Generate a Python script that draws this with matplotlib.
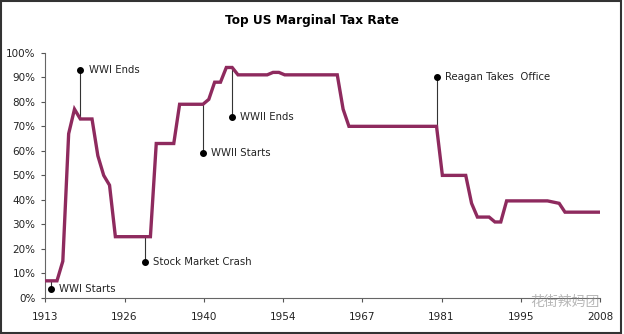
import matplotlib
matplotlib.use("Agg")
import matplotlib.pyplot as plt
import numpy as np

# ------------------------------------------------------------
# Data
# ------------------------------------------------------------
years = list(range(1913, 2009))
top_rate = [
    7, 7, 7, 15, 67, 77, 73, 73, 73, 58,          # 1913-1922
    50, 46, 25, 25, 25, 25, 25, 25, 25, 63,       # 1923-1932
    63, 63, 63, 79, 79, 79, 79, 79, 81, 88,       # 1933-1942
    88, 94, 94, 91, 91, 91, 91, 91, 91, 92,       # 1943-1952
    92, 91, 91, 91, 91, 91, 91, 91, 91, 91,       # 1953-1962
    91, 77, 70, 70, 70, 70, 70, 70, 70, 70,       # 1963-1972
    70, 70, 70, 70, 70, 70, 70, 70, 50, 50,       # 1973-1982
    50, 50, 50, 38.6, 33, 33, 33, 31, 31, 39.6,   # 1983-1992
    39.6, 39.6, 39.6, 39.6, 39.6, 39.6, 39.6, 39.1, 38.6, 35,  # 1993-2002
    35, 35, 35, 35, 35, 35,                       # 2003-2008
]

event_labels = ["WWI Starts", "WWI Ends", "Stock Market Crash",
                "WWII Starts", "WWII Ends", "Reagan Takes  Office"]
event_years = [1914, 1919, 1930, 1940, 1945, 1980]
event_dot = [3.7, 93, 14.8, 59, 74, 90]

tick_labels = ["1913", "1926", "1940", "1954", "1967", "1981", "1995", "2008"]
y_ticks = [0, 10, 20, 30, 40, 50, 60, 70, 80, 90, 100]

LINE_COLOR = "#8E2A5E"
TEXT_COLOR = "#222222"

# ------------------------------------------------------------
# Plot
# ------------------------------------------------------------
fig = plt.figure(figsize=(6.24, 3.34), dpi=100)
ax = fig.add_axes([0.0726, 0.1078, 0.889, 0.7342])

ax.plot(years, top_rate, color=LINE_COLOR, linewidth=2.4,
        solid_joinstyle="miter", zorder=3)

# event markers: dot + thin stem to the curve
for label, yr, dot in zip(event_labels, event_years, event_dot):
    curve = np.interp(yr, years, top_rate)
    ax.plot([yr, yr], [dot, curve], color="#333333", linewidth=0.8, zorder=2)
    ax.plot(yr, dot, "o", color="black", markersize=4, zorder=4)
    ax.text(yr + 1.4, dot, label, fontsize=7.3, color=TEXT_COLOR,
            va="center", ha="left", family="DejaVu Sans")

ax.set_xlim(1913, 2008)
ax.set_ylim(0, 100)
ax.set_xticks(np.linspace(1913, 2008, len(tick_labels)))
ax.set_xticklabels(tick_labels, fontsize=7.5, color=TEXT_COLOR)
ax.set_yticks(y_ticks)
ax.set_yticklabels([f"{v}%" for v in y_ticks], fontsize=7.5, color=TEXT_COLOR)
ax.tick_params(axis="both", direction="out", length=3, width=0.8,
               color="#555555", pad=4)
ax.tick_params(axis="x", pad=7)

for side in ["top", "right"]:
    ax.spines[side].set_visible(False)
for side in ["left", "bottom"]:
    ax.spines[side].set_color("#666666")
    ax.spines[side].set_linewidth(0.8)

fig.text(0.5, 0.94, "Top US Marginal Tax Rate", ha="center", va="center",
         fontsize=8.7, fontweight="bold", color="black", family="DejaVu Sans")

# watermark
fig.text(0.905, 0.097, "花街辣妈团", ha="center", va="center", fontsize=10,
         color="#888888", alpha=0.6, family=["Noto Sans CJK SC", "DejaVu Sans"])

# chart frame
fig.patches.append(plt.Rectangle((0.002, 0.004), 0.993, 0.992,
                                 transform=fig.transFigure, fill=False,
                                 edgecolor="#333333", linewidth=1.5))

fig.savefig("out.png", dpi=100)
